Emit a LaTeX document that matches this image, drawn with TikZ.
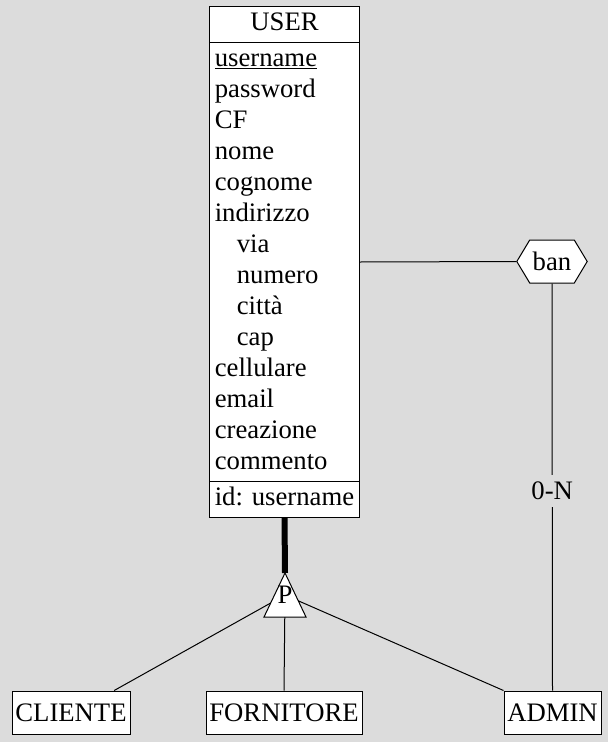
\documentclass[tikz,border=0pt]{standalone}
\usepackage{fontspec}
\setmainfont{Liberation Serif}
\usetikzlibrary{shapes.multipart,shapes.symbols}
\definecolor{bggray}{HTML}{DCDCDC}

\begin{document}
\begin{tikzpicture}[x=1pt,y=-1pt,
  every node/.style={font=\fontsize{26.7}{31}\selectfont},
  entity/.style={draw,fill=white,line width=1pt,minimum height=43pt,inner xsep=3pt},
  link/.style={line width=1pt}]
  \fill[bggray] (0,0) rectangle (608,742);
  % entita' USER
  \node[entity,rectangle split,rectangle split parts=3,align=left,
    rectangle split part align={center,left,left},
    inner xsep=5pt,inner ysep=2pt,minimum width=146pt,minimum height=0pt,anchor=north]
    (user) at (284.5,6) {\strut USER
    \nodepart{two}\strut\underline{username}\\ password\\ CF\\ nome\\ cognome\\ indirizzo\\
      \hspace*{22pt}via\\ \hspace*{22pt}numero\\ \hspace*{22pt}città\\ \hspace*{22pt}cap\\
      cellulare\\ email\\ creazione\\ commento\strut
    \nodepart{three}\strut id: username};
  % sottotipi
  \node[entity,minimum width=118pt] (cliente) at (71,712.5) {CLIENTE};
  \node[entity,minimum width=156pt] (fornitore) at (284,712.5) {FORNITORE};
  \node[entity,minimum width=97pt] (admin) at (552.5,712.5) {ADMIN};
  % relazione ban
  \node[draw,fill=white,line width=1pt,signal,signal to=east and west,
    signal pointer angle=118,inner xsep=3pt,inner ysep=0pt,minimum height=43pt]
    (ban) at (552,261.5) {ban};
  \coordinate (isatop) at (285,573);
  \coordinate (isa) at (285,595);
  \draw[link] (user.east) -- (ban.west);
  \draw[link] (ban.south) -- node[pos=0.51,fill=bggray,inner xsep=2pt,inner ysep=7pt]
    (card) {0-N} (admin.north);
  % generalizzazione
  \draw[line width=6pt] (user.south) -- (isatop);
  \draw[link] (isa) -- (cliente.27.7);
  \draw[link] (isa) -- (fornitore.north);
  \draw[link] (isa) -- (admin.north west);
  \draw[link,fill=white] (isatop) -- ++(-21,44) -- ++(42,0) -- cycle;
  \node[anchor=base] (gen) at (285,603) {P};
\end{tikzpicture}
\end{document}
